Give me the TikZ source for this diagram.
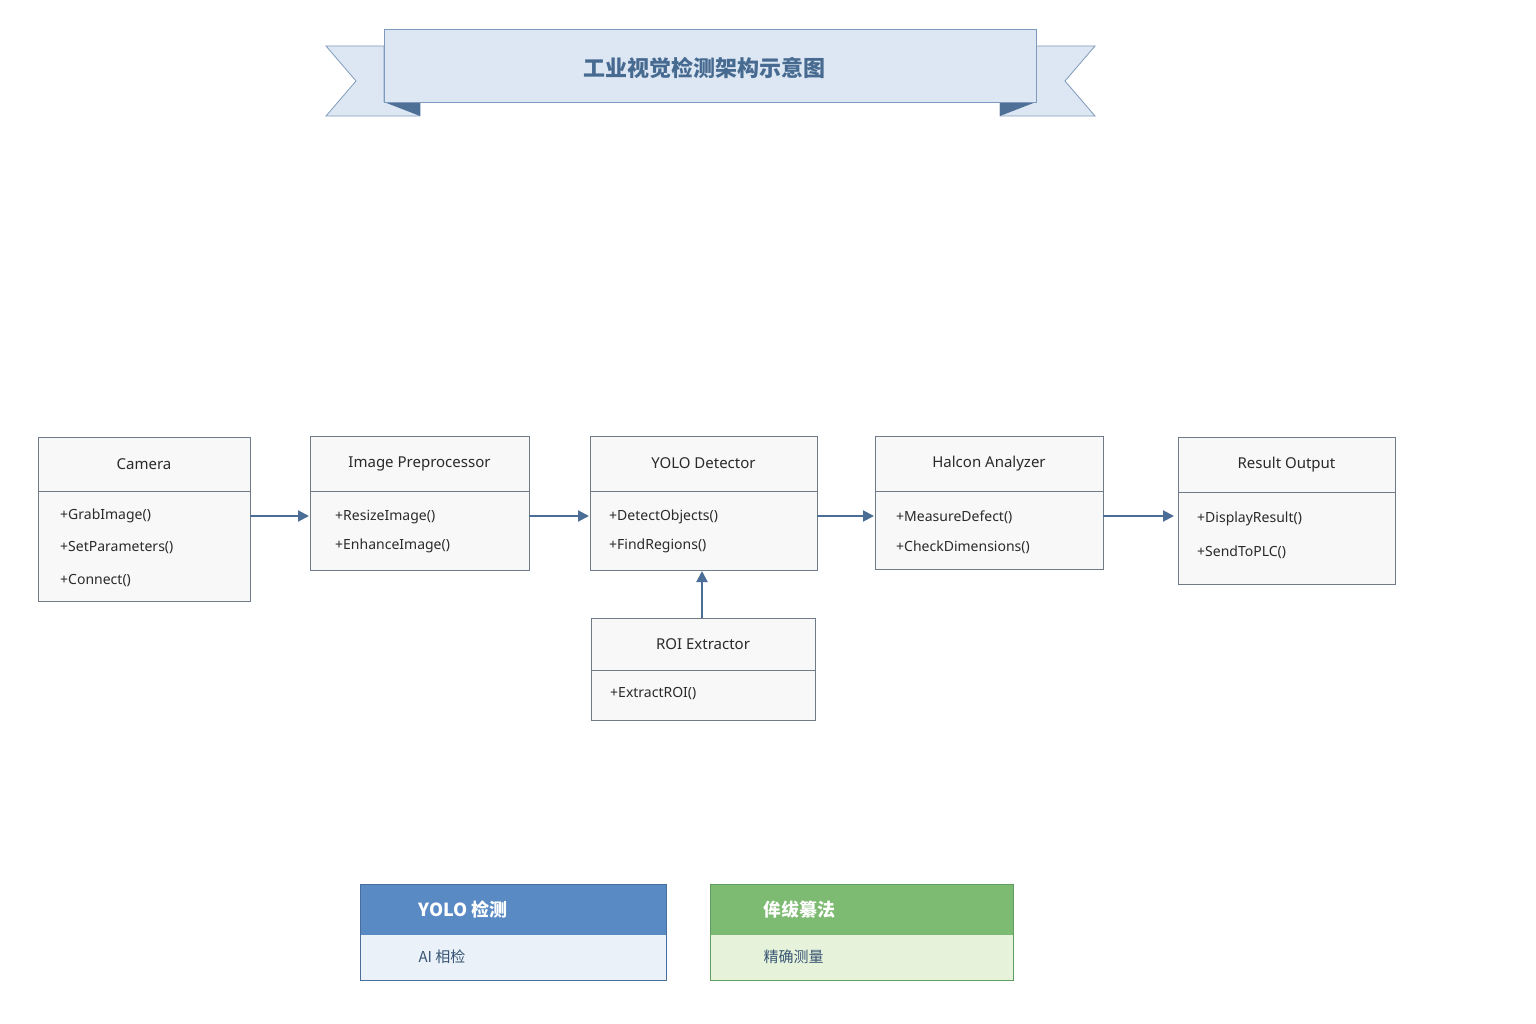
\documentclass[tikz,border=0pt]{standalone}
\usepackage{fontspec}
\setmainfont{Noto Sans}
\newfontfamily\cjk{Noto Sans CJK SC}
\usetikzlibrary{arrows.meta}
\definecolor{bord}{HTML}{6F7C88}
\definecolor{boxbg}{HTML}{F8F8F8}
\definecolor{arr}{HTML}{4A6E96}
\definecolor{ban}{HTML}{DCE7F3}
\definecolor{banb}{HTML}{7F9BBB}
\definecolor{bandark}{HTML}{4E7096}
\definecolor{titc}{HTML}{476A91}
\definecolor{blueh}{HTML}{5A8AC4}
\definecolor{bluel}{HTML}{EAF1F8}
\definecolor{greenh}{HTML}{7EBB72}
\definecolor{greenl}{HTML}{E6F3DA}
\definecolor{greenb}{HTML}{5E9E60}
\definecolor{txt}{HTML}{2A2A2A}
\begin{document}
\begin{tikzpicture}[x=1pt,y=-1pt,
  box/.style={draw=bord,fill=boxbg,line width=0.9pt},
  head/.style={font=\fontsize{15}{18}\selectfont\bfseries,text=txt},
  meth/.style={font=\fontsize{14}{17}\selectfont,text=txt,anchor=west,inner sep=0},
  link/.style={draw=arr,line width=2pt,-{Triangle[length=11pt,width=11pt]}}]
\fill[white] (0,0) rectangle (1536,1024);
\useasboundingbox (0,0) rectangle (1536,1024);
% banner
\filldraw[fill=ban,draw=banb,line width=0.8pt] (384,46)--(326,46)--(356,81)--(326,116)--(420,116)--(420,102)--(384,102)--cycle;
\filldraw[fill=ban,draw=banb,line width=0.8pt] (1036,46)--(1095,46)--(1065,81)--(1095,116)--(1000,116)--(1000,102)--(1036,102)--cycle;
\fill[bandark] (384,102)--(420,102)--(420,116)--cycle;
\fill[bandark] (1036,102)--(1000,102)--(1000,116)--cycle;
\filldraw[fill=ban,draw=banb,line width=0.8pt] (384,29) rectangle (1036,102);
\node[text=titc,font=\cjk\fontsize{22}{26}\selectfont\bfseries] (title) at (704,68) {工业视觉检测架构示意图};
% boxes
\newcommand{\umlbox}[7]{% name, x1,y1,x2,y2,ydiv,title
  \draw[box] (#2,#3) rectangle (#4,#5);
  \draw[bord,line width=0.9pt] (#2,#6)--(#4,#6);
  \coordinate (#1-nw) at (#2,#3); \coordinate (#1-se) at (#4,#5);
  \node[head] (#1-t) at ({(#2+#4)/2},{(#3+#6)/2}) {#7};}
\umlbox{cam}{38}{437}{250}{601}{491}{Camera}
\node[meth] (cam1) at (60,516) {+GrabImage()};
\node[meth] (cam2) at (60,548) {+SetParameters()};
\node[meth] (cam3) at (60,581) {+Connect()};
\umlbox{pre}{310}{436}{529}{570}{491}{Image Preprocessor}
\node[meth] (pre1) at (335,517) {+ResizeImage()};
\node[meth] (pre2) at (335,546) {+EnhanceImage()};
\umlbox{yolo}{590}{436}{817}{570}{491}{YOLO Detector}
\node[meth] (yolo1) at (609,517) {+DetectObjects()};
\node[meth] (yolo2) at (609,546) {+FindRegions()};
\umlbox{hal}{875}{436}{1103}{569}{491}{Halcon Analyzer}
\node[meth] (hal1) at (896,517) {+MeasureDefect()};
\node[meth] (hal2) at (896,547) {+CheckDimensions()};
\umlbox{res}{1178}{437}{1395}{584}{492}{Result Output}
\node[meth] (res1) at (1197,519) {+DisplayResult()};
\node[meth] (res2) at (1197,552) {+SendToPLC()};
\umlbox{roi}{591}{618}{815}{720}{670}{ROI Extractor}
\node[meth] (roi1) at (610,694) {+ExtractROI()};
% arrows
\coordinate (a1) at (250,516); \coordinate (b1) at (309,516);
\coordinate (a2) at (529,516); \coordinate (b2) at (589,516);
\coordinate (a3) at (817,516); \coordinate (b3) at (874,516);
\coordinate (a4) at (1103,516); \coordinate (b4) at (1174,516);
\coordinate (a5) at (702,618); \coordinate (b5) at (702,571);
\draw[link] (a1)--(b1); \draw[link] (a2)--(b2); \draw[link] (a3)--(b3);
\draw[link] (a4)--(b4); \draw[link] (a5)--(b5);
% legend
\fill[bluel] (360,935) rectangle (666,980);
\fill[blueh] (360,884) rectangle (666,935);
\draw[blueh!80!black,line width=0.9pt] (360,884) rectangle (666,980);
\node[anchor=west,text=white,font=\cjk\fontsize{18}{22}\selectfont\bfseries] (l1) at (415,910) {YOLO 检测};
\node[anchor=west,text=titc!80!black,font=\cjk\fontsize{15}{18}\selectfont] (l2) at (415,957) {AI 相检};
\fill[greenl] (710,935) rectangle (1013,980);
\fill[greenh] (710,884) rectangle (1013,935);
\draw[greenb,line width=0.9pt] (710,884) rectangle (1013,980);
\node[anchor=west,text=white,font=\cjk\fontsize{18}{22}\selectfont\bfseries] (g1) at (760,910) {侔绂纂法};
\node[anchor=west,text=titc!80!black,font=\cjk\fontsize{15}{18}\selectfont] (g2) at (760,957) {精确测量};
\end{tikzpicture}
\end{document}
